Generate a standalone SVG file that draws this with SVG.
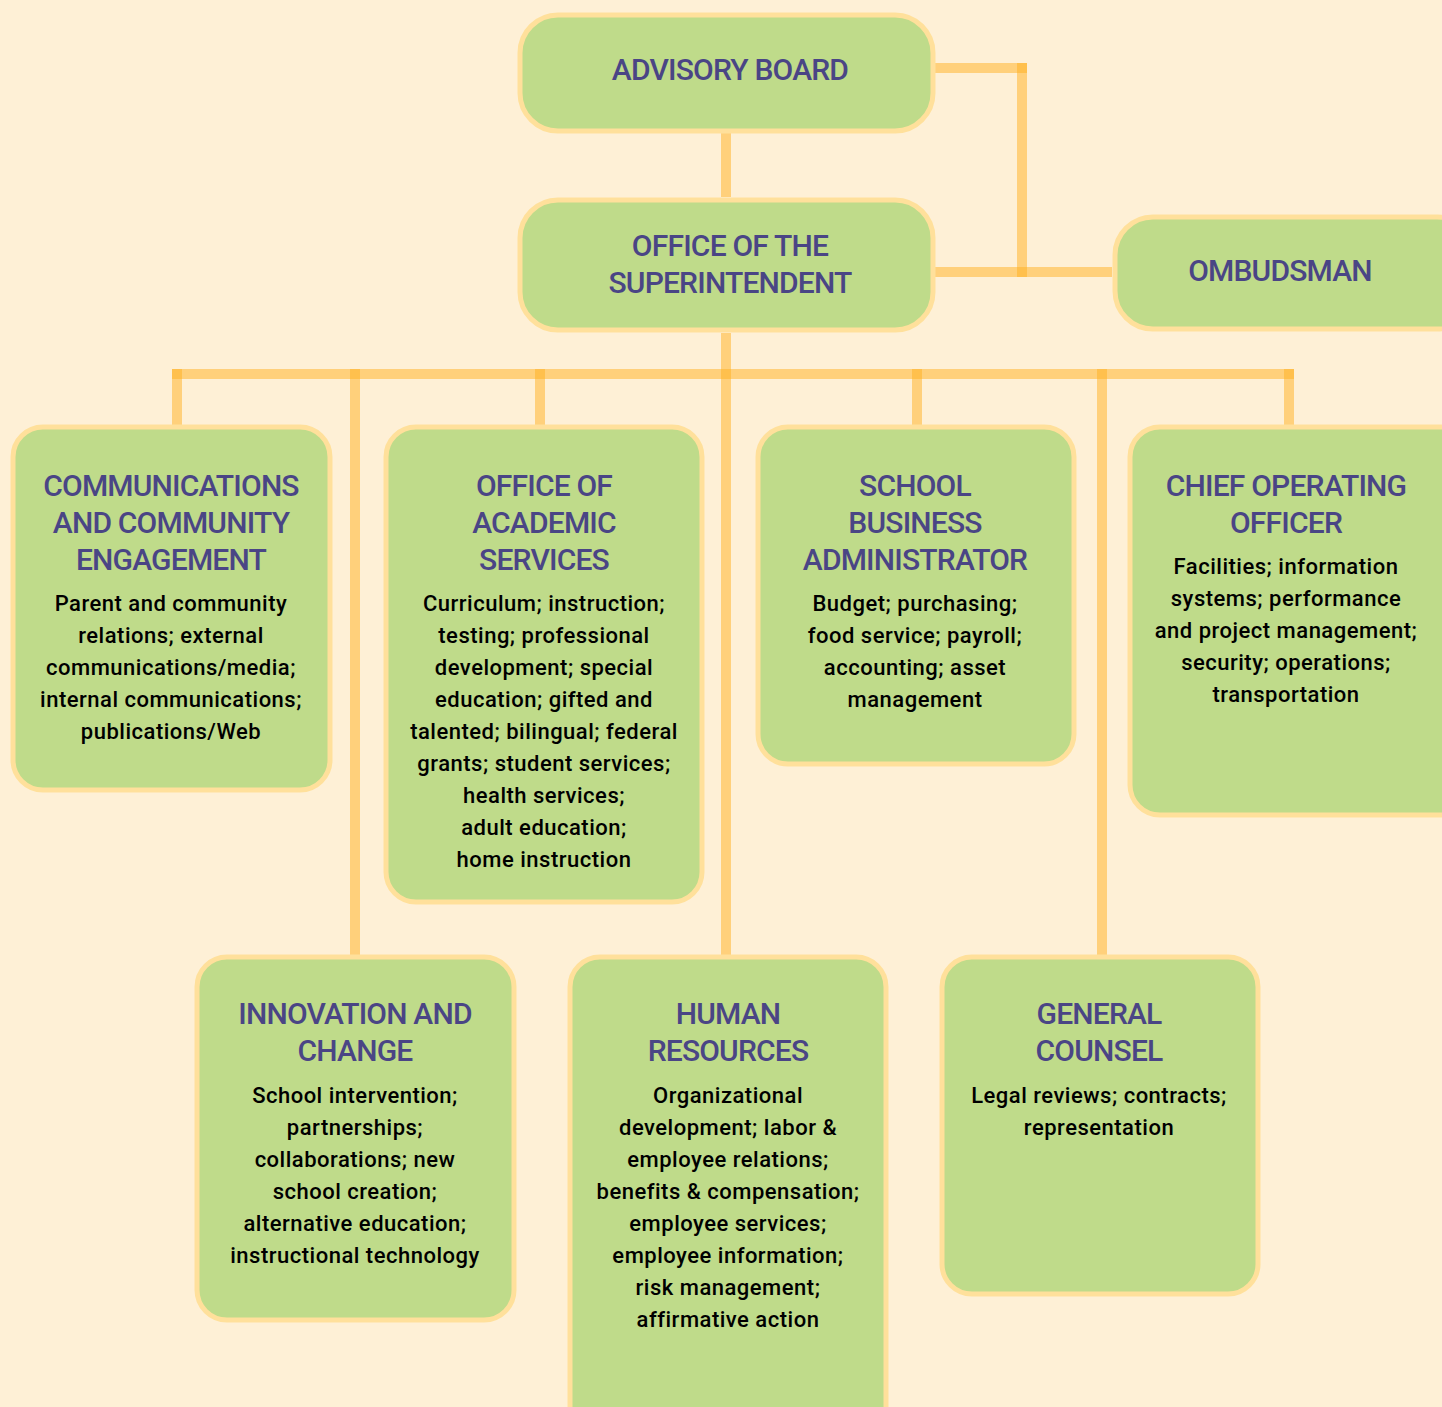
<svg xmlns="http://www.w3.org/2000/svg" width="1442" height="1407" viewBox="0 0 1442 1407">
  <style>
    .bg { fill: #fef0d6; }
    .box { fill: #bfdb8a; stroke: #ffe09b; stroke-width: 5; }
    .ln { stroke: #ffb020; stroke-opacity: 0.5; stroke-width: 10; fill: none; stroke-linecap: butt; }
    .t { font-family: Roboto, "Liberation Sans", sans-serif; font-weight: 500; font-size: 30px; letter-spacing: -0.8px; fill: #4a4585; text-anchor: middle; }
    .b { font-family: Roboto, "Liberation Sans", sans-serif; font-weight: 500; font-size: 22px; letter-spacing: 0.5px; fill: #000000; text-anchor: middle; }
  </style>
  <rect class="bg" x="0" y="0" width="1442" height="1407"/>

  <!-- connectors -->
  <g id="connectors">
    <line class="ln" x1="726" y1="133" x2="726" y2="197"/>
    <line class="ln" x1="935" y1="68" x2="1027" y2="68"/>
    <line class="ln" x1="1022" y1="63" x2="1022" y2="277"/>
    <line class="ln" x1="935" y1="272" x2="1112" y2="272"/>
    <line class="ln" x1="726" y1="333" x2="726" y2="955"/>
    <line class="ln" x1="172" y1="374" x2="1294" y2="374"/>
    <line class="ln" x1="177" y1="369" x2="177" y2="425"/>
    <line class="ln" x1="355" y1="369" x2="355" y2="955"/>
    <line class="ln" x1="540" y1="369" x2="540" y2="425"/>
    <line class="ln" x1="917" y1="369" x2="917" y2="425"/>
    <line class="ln" x1="1102" y1="369" x2="1102" y2="955"/>
    <line class="ln" x1="1289" y1="369" x2="1289" y2="425"/>
  </g>

  <g id="advisory-board">
    <rect class="box" x="520" y="15" width="413" height="116" rx="38"/>
    <text class="t" x="730" y="80">ADVISORY BOARD</text>
  </g>

  <g id="superintendent">
    <rect class="box" x="520" y="200" width="413" height="130" rx="38"/>
    <text class="t" x="730" y="256">OFFICE OF THE</text>
    <text class="t" x="730" y="293">SUPERINTENDENT</text>
  </g>

  <g id="ombudsman">
    <rect class="box" x="1115" y="217" width="360" height="112" rx="38"/>
    <text class="t" x="1280" y="281">OMBUDSMAN</text>
  </g>

  <g id="communications">
    <rect class="box" x="13" y="427" width="317" height="363" rx="30"/>
    <text class="t" x="171" y="496">COMMUNICATIONS</text>
    <text class="t" x="171" y="533">AND COMMUNITY</text>
    <text class="t" x="171" y="570">ENGAGEMENT</text>
    <text class="b" x="171" y="611">Parent and community</text>
    <text class="b" x="171" y="643">relations; external</text>
    <text class="b" x="171" y="675">communications/media;</text>
    <text class="b" x="171" y="707">internal communications;</text>
    <text class="b" x="171" y="739">publications/Web</text>
  </g>

  <g id="academic-services">
    <rect class="box" x="386" y="427" width="316" height="475" rx="30"/>
    <text class="t" x="544" y="496">OFFICE OF</text>
    <text class="t" x="544" y="533">ACADEMIC</text>
    <text class="t" x="544" y="570">SERVICES</text>
    <text class="b" x="544" y="611">Curriculum; instruction;</text>
    <text class="b" x="544" y="643">testing; professional</text>
    <text class="b" x="544" y="675">development; special</text>
    <text class="b" x="544" y="707">education; gifted and</text>
    <text class="b" x="544" y="739">talented; bilingual; federal</text>
    <text class="b" x="544" y="771">grants; student services;</text>
    <text class="b" x="544" y="803">health services;</text>
    <text class="b" x="544" y="835">adult education;</text>
    <text class="b" x="544" y="867">home instruction</text>
  </g>

  <g id="school-business">
    <rect class="box" x="758" y="427" width="316" height="337" rx="30"/>
    <text class="t" x="915" y="496">SCHOOL</text>
    <text class="t" x="915" y="533">BUSINESS</text>
    <text class="t" x="915" y="570">ADMINISTRATOR</text>
    <text class="b" x="915" y="611">Budget; purchasing;</text>
    <text class="b" x="915" y="643">food service; payroll;</text>
    <text class="b" x="915" y="675">accounting; asset</text>
    <text class="b" x="915" y="707">management</text>
  </g>

  <g id="chief-operating">
    <rect class="box" x="1130" y="427" width="340" height="388" rx="30"/>
    <text class="t" x="1286" y="496">CHIEF OPERATING</text>
    <text class="t" x="1286" y="533">OFFICER</text>
    <text class="b" x="1286" y="574">Facilities; information</text>
    <text class="b" x="1286" y="606">systems; performance</text>
    <text class="b" x="1286" y="638">and project management;</text>
    <text class="b" x="1286" y="670">security; operations;</text>
    <text class="b" x="1286" y="702">transportation</text>
  </g>

  <g id="innovation">
    <rect class="box" x="197" y="957" width="317" height="363" rx="30"/>
    <text class="t" x="355" y="1024">INNOVATION AND</text>
    <text class="t" x="355" y="1061">CHANGE</text>
    <text class="b" x="355" y="1103">School intervention;</text>
    <text class="b" x="355" y="1135">partnerships;</text>
    <text class="b" x="355" y="1167">collaborations; new</text>
    <text class="b" x="355" y="1199">school creation;</text>
    <text class="b" x="355" y="1231">alternative education;</text>
    <text class="b" x="355" y="1263">instructional technology</text>
  </g>

  <g id="human-resources">
    <rect class="box" x="570" y="957" width="316" height="480" rx="30"/>
    <text class="t" x="728" y="1024">HUMAN</text>
    <text class="t" x="728" y="1061">RESOURCES</text>
    <text class="b" x="728" y="1103">Organizational</text>
    <text class="b" x="728" y="1135">development; labor &amp;</text>
    <text class="b" x="728" y="1167">employee relations;</text>
    <text class="b" x="728" y="1199">benefits &amp; compensation;</text>
    <text class="b" x="728" y="1231">employee services;</text>
    <text class="b" x="728" y="1263">employee information;</text>
    <text class="b" x="728" y="1295">risk management;</text>
    <text class="b" x="728" y="1327">affirmative action</text>
  </g>

  <g id="general-counsel">
    <rect class="box" x="942" y="957" width="316" height="337" rx="30"/>
    <text class="t" x="1099" y="1024">GENERAL</text>
    <text class="t" x="1099" y="1061">COUNSEL</text>
    <text class="b" x="1099" y="1103">Legal reviews; contracts;</text>
    <text class="b" x="1099" y="1135">representation</text>
  </g>
</svg>
